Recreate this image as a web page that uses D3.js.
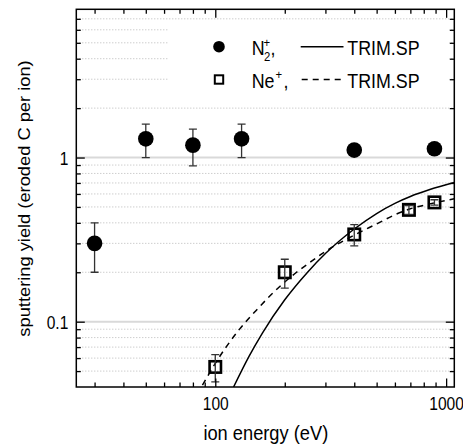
<!DOCTYPE html>
<html>
<head>
<meta charset="utf-8">
<script src="https://cdn.jsdelivr.net/npm/d3@7"></script>
<style>
  html, body { margin: 0; padding: 0; background: #fff; }
  svg { display: block; font-family: "Liberation Sans", Arial, Helvetica, sans-serif; }
</style>
</head>
<body>
<svg id="chart" width="463" height="445"></svg>
<script>
// Measured sputtering yields of carbon (eroded C per ion)
const n2Energy = [30, 50, 80, 130, 400, 890];
const n2Yield  = [0.30, 1.30, 1.19, 1.30, 1.11, 1.13];
const n2Error  = [0.10, 0.30, 0.30, 0.30, 0, 0];

const neEnergy = [100, 200, 400, 690, 890];
const neYield  = [0.053, 0.20, 0.34, 0.48, 0.533];
const neError  = [0.010, 0.040, 0.050, 0.030, 0.020];

// TRIM.SP simulated yields
const trimN2Energy = [120, 140, 160, 200, 250, 300, 400, 500, 600, 700, 850, 1085];
const trimN2Yield  = [0.040, 0.0615, 0.0853, 0.136, 0.199, 0.26, 0.367, 0.456, 0.526, 0.579, 0.638, 0.704];
const trimNeEnergy = [88, 100, 125, 150, 200, 250, 300, 400, 500, 600, 700, 850, 1085];
const trimNeYield  = [0.041, 0.0557, 0.0871, 0.1167, 0.1746, 0.2232, 0.268, 0.337, 0.394, 0.448, 0.487, 0.522, 0.561];

// Axis ticks
const xMajorTicks = [100, 1000];
const xTickLabels = ["100", "1000"];
const xMinorTicks = [30, 40, 50, 60, 70, 80, 90, 200, 300, 400, 500, 600, 700, 800, 900];
const yMajorTicks = [0.1, 1];
const yTickLabels = ["0.1", "1"];
const yMinorTicks = [0.05, 0.06, 0.07, 0.08, 0.09, 0.2, 0.3, 0.4, 0.5, 0.6, 0.7, 0.8, 0.9, 2, 3, 4, 5, 6, 7];

const xTitle = "ion energy (eV)";
const yTitle = "sputtering yield (eroded C per ion)";
const legendTrim = "TRIM.SP";

const svg = d3.select("#chart");
const plot = { left: 76.3, right: 454.3, top: 9.3, bottom: 387 };
const W = plot.right - plot.left, H = plot.bottom - plot.top;

const x = d3.scaleLog().domain([25, 1085]).range([plot.left, plot.right]);
const y = d3.scaleLog().domain([0.04, 8]).range([plot.bottom, plot.top]);

svg.append("defs").append("clipPath").attr("id", "plotclip")
  .append("rect").attr("x", plot.left).attr("y", plot.top).attr("width", W).attr("height", H);

// Horizontal grid: dotted at minor decades, solid at 0.1 and 1
svg.append("g").selectAll("line").data(yMinorTicks).join("line")
  .attr("x1", plot.left).attr("x2", plot.right)
  .attr("y1", d => y(d)).attr("y2", d => y(d))
  .attr("stroke", "#b8b8b8").attr("stroke-width", 1).attr("stroke-dasharray", "1,2");
svg.append("g").selectAll("line").data(yMajorTicks).join("line")
  .attr("x1", plot.left).attr("x2", plot.right)
  .attr("y1", d => y(d)).attr("y2", d => y(d))
  .attr("stroke", "#d9d9d9").attr("stroke-width", 2);

// Legend backdrop hides the grid behind the entries
svg.append("rect").attr("x", 169).attr("y", 23).attr("width", 280).attr("height", 76).attr("fill", "#fff");

// Simulation curves
const curve = d3.line().x(d => x(d[0])).y(d => y(d[1])).curve(d3.curveMonotoneX);
const curves = svg.append("g").attr("clip-path", "url(#plotclip)");
curves.append("path").datum(d3.zip(trimN2Energy, trimN2Yield)).attr("d", curve)
  .attr("fill", "none").attr("stroke", "#000").attr("stroke-width", 1.5);
curves.append("path").datum(d3.zip(trimNeEnergy, trimNeYield)).attr("d", curve)
  .attr("fill", "none").attr("stroke", "#000").attr("stroke-width", 1.5).attr("stroke-dasharray", "6,5");

// Error bars
function errorBars(g, ex, ey, ee) {
  const data = d3.zip(ex, ey, ee).filter(d => d[2] > 0);
  const bars = g.append("g").attr("stroke", "#333").attr("stroke-width", 1.3);
  bars.selectAll("line.v").data(data).join("line").attr("class", "v")
    .attr("x1", d => x(d[0])).attr("x2", d => x(d[0]))
    .attr("y1", d => y(d[1] - d[2])).attr("y2", d => y(d[1] + d[2]));
  bars.selectAll("line.t").data(data).join("line").attr("class", "t")
    .attr("x1", d => x(d[0]) - 4).attr("x2", d => x(d[0]) + 4)
    .attr("y1", d => y(d[1] + d[2])).attr("y2", d => y(d[1] + d[2]));
  bars.selectAll("line.b").data(data).join("line").attr("class", "b")
    .attr("x1", d => x(d[0]) - 4).attr("x2", d => x(d[0]) + 4)
    .attr("y1", d => y(d[1] - d[2])).attr("y2", d => y(d[1] - d[2]));
}
const marks = svg.append("g").attr("clip-path", "url(#plotclip)");
errorBars(marks, n2Energy, n2Yield, n2Error);
marks.append("g").selectAll("circle").data(d3.zip(n2Energy, n2Yield)).join("circle")
  .attr("cx", d => x(d[0])).attr("cy", d => y(d[1])).attr("r", 7.8).attr("fill", "#000");
const sq = 11.4;
marks.append("g").selectAll("rect").data(d3.zip(neEnergy, neYield)).join("rect")
  .attr("x", d => x(d[0]) - sq / 2).attr("y", d => y(d[1]) - sq / 2)
  .attr("width", sq).attr("height", sq)
  .attr("fill", "none").attr("stroke", "#000").attr("stroke-width", 2.6);
errorBars(marks, neEnergy, neYield, neError);

// Axes: inward ticks on all four sides
function styleAxis(g) {
  g.select(".domain").remove();
  g.selectAll(".tick line").attr("stroke", "#000").attr("stroke-width", 1.3);
}
const tickFont = 17.5;
function xMajorFmt(d) { return xTickLabels[xMajorTicks.indexOf(d)]; }
function yMajorFmt(d) { return yTickLabels[yMajorTicks.indexOf(d)]; }

svg.append("g").attr("transform", `translate(0,${plot.bottom})`)
  .call(d3.axisBottom(x).tickValues(xMinorTicks).tickSize(-4.5).tickFormat(""))
  .call(styleAxis);
svg.append("g").attr("transform", `translate(0,${plot.bottom})`)
  .call(d3.axisBottom(x).tickValues(xMajorTicks).tickSize(-8.5).tickFormat(xMajorFmt))
  .call(styleAxis)
  .call(g => g.selectAll("text")
    .attr("y", 23).attr("dy", null)
    .attr("font-size", tickFont).attr("fill", "#000")
    .attr("font-family", "'Liberation Sans', Arial, sans-serif")
    .attr("transform", "scale(0.89,1)"));
svg.append("g").attr("transform", `translate(0,${plot.top})`)
  .call(d3.axisTop(x).tickValues(xMinorTicks).tickSize(-4.5).tickFormat(""))
  .call(styleAxis);
svg.append("g").attr("transform", `translate(0,${plot.top})`)
  .call(d3.axisTop(x).tickValues(xMajorTicks).tickSize(-8.5).tickFormat(""))
  .call(styleAxis);

svg.append("g").attr("transform", `translate(${plot.left},0)`)
  .call(d3.axisLeft(y).tickValues(yMinorTicks).tickSize(-4.5).tickFormat(""))
  .call(styleAxis);
svg.append("g").attr("transform", `translate(${plot.left},0)`)
  .call(d3.axisLeft(y).tickValues(yMajorTicks).tickSize(-8.5).tickFormat(yMajorFmt))
  .call(styleAxis)
  .call(g => g.selectAll("text")
    .attr("x", -9).attr("y", 6.8).attr("dy", null)
    .attr("font-size", tickFont).attr("fill", "#000")
    .attr("font-family", "'Liberation Sans', Arial, sans-serif")
    .attr("transform", "scale(0.89,1)"));
svg.append("g").attr("transform", `translate(${plot.right},0)`)
  .call(d3.axisRight(y).tickValues(yMinorTicks).tickSize(-4.5).tickFormat(""))
  .call(styleAxis);
svg.append("g").attr("transform", `translate(${plot.right},0)`)
  .call(d3.axisRight(y).tickValues(yMajorTicks).tickSize(-8.5).tickFormat(""))
  .call(styleAxis);

// Plot frame
svg.append("rect").attr("x", plot.left).attr("y", plot.top).attr("width", W).attr("height", H)
  .attr("fill", "none").attr("stroke", "#000").attr("stroke-width", 1.5);

// Axis titles
svg.append("text").text(xTitle)
  .attr("transform", `translate(${(plot.left + plot.right) / 2 + 0.5},440) scale(0.87,1)`)
  .attr("text-anchor", "middle").attr("font-size", 21).attr("fill", "#000");
svg.append("text").text(yTitle)
  .attr("transform", "translate(29.5,198.5) rotate(-90) scale(1.07,1)")
  .attr("text-anchor", "middle").attr("font-size", 17.1).attr("fill", "#000");

// Legend
const leg = svg.append("g");
const legFont = 20.5, legScale = 0.87;
function legText(str, px, py, size) {
  return leg.append("text").text(str)
    .attr("transform", `translate(${px},${py}) scale(${legScale},1)`)
    .attr("font-size", size).attr("fill", "#000");
}
// row 1: N2+ with solid TRIM.SP line
leg.append("circle").attr("cx", 219).attr("cy", 46.7).attr("r", 5.8).attr("fill", "#000");
legText("N", 251.7, 55, legFont);
legText("2", 264, 60.5, 13);
legText("+", 263.6, 47, 13);
legText(",", 270.5, 55, legFont);
leg.append("line").attr("x1", 300.7).attr("x2", 343.5).attr("y1", 46.7).attr("y2", 46.7)
  .attr("stroke", "#000").attr("stroke-width", 1.5);
legText(legendTrim, 347.3, 55, legFont);
// row 2: Ne+ with dashed TRIM.SP line
leg.append("rect").attr("x", 219 - 4.2).attr("y", 79.5 - 4.2).attr("width", 8.4).attr("height", 8.4)
  .attr("fill", "none").attr("stroke", "#000").attr("stroke-width", 2);
legText("Ne", 251.7, 88, legFont);
legText("+", 275.5, 79, 13);
legText(",", 283.5, 88, legFont);
leg.append("line").attr("x1", 301.7).attr("x2", 345.5).attr("y1", 79.5).attr("y2", 79.5)
  .attr("stroke", "#000").attr("stroke-width", 1.5).attr("stroke-dasharray", "6,5");
legText(legendTrim, 347.3, 88, legFont);
</script>
</body>
</html>
